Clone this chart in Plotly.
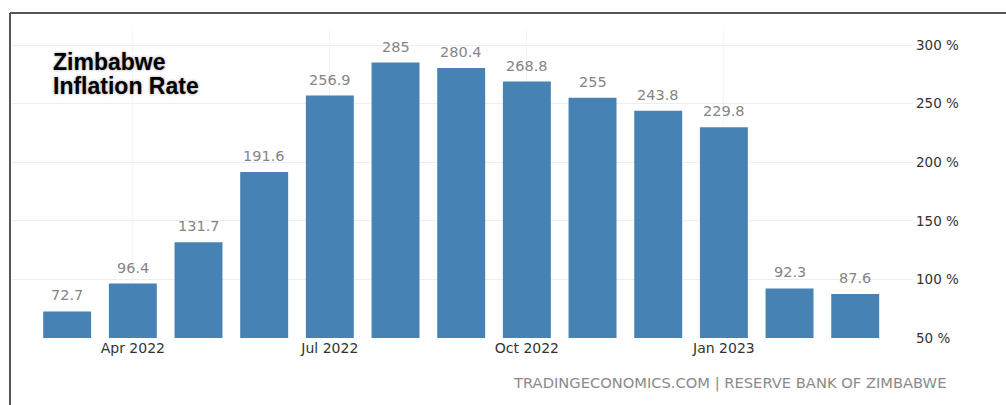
import plotly.graph_objects as go

months = ["Mar 2022", "Apr 2022", "May 2022", "Jun 2022", "Jul 2022", "Aug 2022",
          "Sep 2022", "Oct 2022", "Nov 2022", "Dec 2022", "Jan 2023", "Feb 2023", "Mar 2023"]
inflation = [72.7, 96.4, 131.7, 191.6, 256.9, 285, 280.4, 268.8, 255, 243.8, 229.8, 92.3, 87.6]
x_tick_labels = ["Apr 2022", "Jul 2022", "Oct 2022", "Jan 2023"]
y_ticks = [50, 100, 150, 200, 250, 300]

labels = [f"{v:g}" for v in inflation]

fig = go.Figure()
fig.add_trace(go.Bar(
    x=months, y=inflation,
    marker=dict(color="#4682B4", line=dict(width=0)),
    hoverinfo="skip",
))

# Value labels above bars
for m, v, t in zip(months, inflation, labels):
    fig.add_annotation(
        x=m, y=v, text=t, xref="x", yref="y",
        xanchor="center", yanchor="bottom", yshift=6, showarrow=False,
        font=dict(family="DejaVu Sans", size=14.5, color="#858585"),
    )

fig.update_layout(
    width=1006, height=405,
    margin=dict(l=12, r=93, t=30, b=67),
    paper_bgcolor="white", plot_bgcolor="white",
    bargap=0.27,
    showlegend=False,
    xaxis=dict(
        type="category", range=[-0.84, 12.88],
        tickmode="array", tickvals=x_tick_labels, ticktext=x_tick_labels,
        showgrid=True, gridcolor="#f4f4f4", gridwidth=1,
        tickfont=dict(family="DejaVu Sans", size=14, color="#333333"),
        ticks="", zeroline=False, showline=False,
    ),
    yaxis=dict(
        side="right", range=[50, 312.8],
        tickmode="array", tickvals=y_ticks,
        ticktext=[f"{t} %" for t in y_ticks],
        showgrid=True, gridcolor="#eeeeee", gridwidth=1,
        tickfont=dict(family="DejaVu Sans", size=13.5, color="#333333"),
        ticks="", zeroline=False, showline=False, ticklabelstandoff=2,
    ),
)

# Title
for txt, yp in [("Zimbabwe", 62), ("Inflation Rate", 86)]:
    fig.add_annotation(
        text=f"<b>{txt}</b>", xref="paper", yref="paper",
        x=(51 - 12) / 901, y=(338 - yp) / 308,
        xanchor="left", yanchor="middle", showarrow=False,
        font=dict(family="Liberation Sans", size=23, color="#000000",
                  shadow="0px 0px 3px #9a9a9a"),
    )

# Source footer
fig.add_annotation(
    text="TRADINGECONOMICS.COM | RESERVE BANK OF ZIMBABWE",
    xref="paper", yref="paper",
    x=(948 - 12) / 901, y=(338 - 383) / 308,
    xanchor="right", yanchor="middle", showarrow=False,
    font=dict(family="DejaVu Sans", size=14.7, color="#8a8a8a"),
)

# Frame lines (top and left)
fig.add_shape(type="line", xref="paper", yref="paper",
              x0=(10 - 12) / 901, x1=(1006 - 12) / 901,
              y0=(338 - 13) / 308, y1=(338 - 13) / 308,
              line=dict(color="#555555", width=2))
fig.add_shape(type="line", xref="paper", yref="paper",
              x0=(10 - 12) / 901, x1=(10 - 12) / 901,
              y0=(338 - 13) / 308, y1=(338 - 405) / 308,
              line=dict(color="#555555", width=2))

fig.write_html("out.html")
